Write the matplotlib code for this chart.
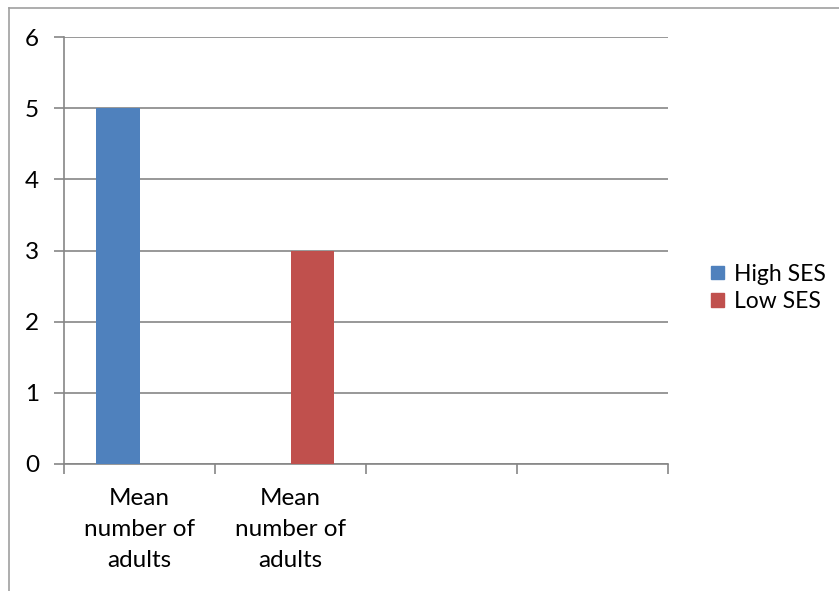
import matplotlib.pyplot as plt
import numpy as np
from matplotlib.patches import Patch

# values per category slot (Excel-style clustered columns, 4 slots)
categories = ["Mean\nnumber of\nadults", "Mean\nnumber of\nadults", "", ""]
high_ses = [5, np.nan, np.nan, np.nan]
low_ses = [np.nan, 3, np.nan, np.nan]
series_names = ["High SES", "Low SES"]

BLUE = "#4f81bd"
RED = "#c0504d"
GRID = "#868686"

plt.rcParams['font.family'] = ['Lato', 'DejaVu Sans']

fig = plt.figure(figsize=(8.39, 5.91), dpi=100)
ax = fig.add_axes([64 / 839, 1 - 464 / 591, (668 - 64) / 839, (464 - 37) / 591])

# outer chart border (left and top edges)
fig.add_artist(plt.Line2D([8.5 / 839, 8.5 / 839], [0, 1 - 7.5 / 591], color="#a0a0a0", lw=1.2))
fig.add_artist(plt.Line2D([8.5 / 839, 1], [1 - 7.5 / 591, 1 - 7.5 / 591], color="#a0a0a0", lw=1.2))

x = np.arange(len(categories))
w = 1 / 3.5
ax.bar(x - w / 2, high_ses, w, color=BLUE, zorder=3)
ax.bar(x + w / 2, low_ses, w, color=RED, zorder=3)

ax.set_xlim(-0.5, len(categories) - 0.5)
ax.set_ylim(0, 6)
ax.set_yticks(range(7))
ax.yaxis.grid(True, color=GRID, lw=1.2)
ax.set_axisbelow(True)

ax.set_xticks(x)
ax.set_xticklabels(categories, fontsize=17.5, linespacing=1.6)
ax.set_xticks(np.arange(len(categories) + 1) - 0.5, minor=True)
ax.tick_params(axis='x', which='major', length=0, pad=17)
ax.tick_params(axis='x', which='minor', length=7, color=GRID, width=1.2)
ax.tick_params(axis='y', length=7, color=GRID, width=1.2, labelsize=17.5, pad=11)

for s in ['top', 'right']:
    ax.spines[s].set_visible(False)
for s in ['left', 'bottom']:
    ax.spines[s].set_color(GRID)
    ax.spines[s].set_linewidth(1.2)

handles = [Patch(color=BLUE), Patch(color=RED)]
fig.legend(handles, series_names, loc='center left', bbox_to_anchor=(702 / 839, 1 - 288 / 591),
           frameon=False, fontsize=16.5, handlelength=0.55, handleheight=0.55,
           handletextpad=0.45, labelspacing=0.3, borderaxespad=0)

fig.savefig("out.png", dpi=100, facecolor="white")
